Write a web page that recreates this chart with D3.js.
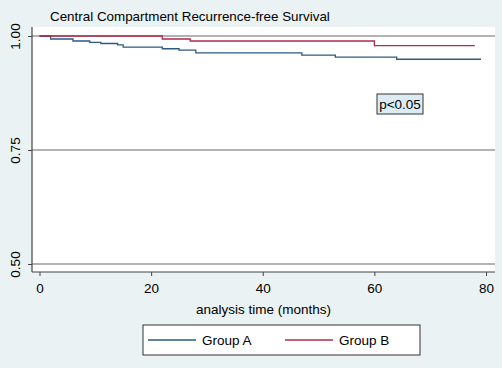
<!DOCTYPE html>
<html>
<head>
<meta charset="utf-8">
<script src="https://cdn.jsdelivr.net/npm/d3@7"></script>
<style>
  body { margin: 0; background: #eaf2f3; }
  text { font-family: "Liberation Sans", Arial, sans-serif; fill: #000; }
</style>
</head>
<body>
<script>
// Kaplan-Meier steps
var timesA = [0, 2, 6, 9, 11, 14, 15, 22, 25, 28, 47, 53, 64, 79.1];
var survA  = [1, 0.9934, 0.989, 0.986, 0.9836, 0.9807, 0.9757, 0.972, 0.969, 0.963, 0.958, 0.9535, 0.949, 0.949];
var timesB = [0, 22, 27, 60, 78];
var survB  = [1, 0.9934, 0.989, 0.979, 0.979];

var xTicks = [0, 20, 40, 60, 80];
var yTicks = [0.5, 0.75, 1];
var groups = ["Group A", "Group B"];
var colors = ["#2d5a80", "#b02a4a"];

var width = 502, height = 368;
var plot = {left: 32, right: 495, top: 27, bottom: 272};

var svg = d3.select("body").append("svg")
            .attr("width", width)
            .attr("height", height);

svg.append("rect")
   .attr("width", width).attr("height", height)
   .attr("fill", "#eaf2f3");

// Title
svg.append("text")
   .attr("x", 50)
   .attr("y", 21)
   .style("font-size", "13.4px")
   .text("Central Compartment Recurrence-free Survival");

// Scales
var x = d3.scaleLinear().domain([0, 80]).range([39.5, 486]);
var y = d3.scaleLinear().domain([0.5, 1]).range([264, 36]);

// Plot region
svg.append("rect")
   .attr("x", plot.left).attr("y", plot.top)
   .attr("width", plot.right - plot.left)
   .attr("height", plot.bottom - plot.top)
   .attr("fill", "white");

// Gridlines
svg.selectAll(".grid")
   .data(yTicks)
   .enter().append("line")
   .attr("class", "grid")
   .attr("x1", plot.left).attr("x2", plot.right)
   .attr("y1", function(d){ return y(d); })
   .attr("y2", function(d){ return y(d); })
   .attr("stroke", "#9a9a9a")
   .attr("stroke-width", 1.4);

// Axes
var xAxis = d3.axisBottom(x).tickValues(xTicks).tickSize(4).tickPadding(7);
var gx = svg.append("g")
   .attr("transform", "translate(0," + plot.bottom + ")")
   .call(xAxis);
gx.select(".domain").remove();
gx.selectAll("line").attr("stroke", "#444");
gx.selectAll("text").style("font-size", "13.5px").attr("fill", "#000");
gx.append("line")
  .attr("x1", plot.left).attr("x2", plot.right)
  .attr("stroke", "#444").attr("stroke-width", 1.2);

var yAxis = d3.axisLeft(y).tickValues(yTicks).tickSize(4).tickFormat(d3.format(".2f"));
var gy = svg.append("g")
   .attr("transform", "translate(" + plot.left + ",0)")
   .call(yAxis);
gy.select(".domain").remove();
gy.selectAll("line").attr("stroke", "#444");
gy.selectAll("text")
  .style("font-size", "13.5px")
  .attr("fill", "#000")
  .attr("x", 0).attr("dy", 0)
  .attr("text-anchor", "middle")
  .attr("transform", "translate(-12.5,0) rotate(-90)");
gy.append("line")
  .attr("y1", plot.top).attr("y2", plot.bottom)
  .attr("stroke", "#444").attr("stroke-width", 1.2);

// X axis title
svg.append("text")
   .attr("x", 263.5)
   .attr("y", 314)
   .attr("text-anchor", "middle")
   .style("font-size", "13.5px")
   .text("analysis time (months)");

// Survival curves
var line = d3.line()
             .x(function(d){ return x(d[0]); })
             .y(function(d){ return y(d[1]); })
             .curve(d3.curveStepAfter);

var series = [d3.zip(timesA, survA), d3.zip(timesB, survB)];
svg.selectAll(".km")
   .data(series)
   .enter().append("path")
   .attr("class", "km")
   .attr("d", line)
   .attr("fill", "none")
   .attr("stroke", function(d, i){ return colors[i]; })
   .attr("stroke-width", 1.3);

// p-value box
svg.append("rect")
   .attr("x", 377).attr("y", 94)
   .attr("width", 46).attr("height", 20)
   .attr("fill", "#dcecf4")
   .attr("stroke", "#333").attr("stroke-width", 1);
svg.append("text")
   .attr("x", 400).attr("y", 109)
   .attr("text-anchor", "middle")
   .style("font-size", "13.5px")
   .text("p<0.05");

// Legend
var legend = svg.append("g");
legend.append("rect")
      .attr("x", 143).attr("y", 325)
      .attr("width", 277).attr("height", 30)
      .attr("fill", "white")
      .attr("stroke", "#333").attr("stroke-width", 1);

var items = legend.selectAll(".item")
      .data(groups)
      .enter().append("g")
      .attr("class", "item")
      .attr("transform", function(d, i){ return "translate(" + (148 + i * 137) + ",340)"; });
items.append("line")
     .attr("x1", 0).attr("x2", 48)
     .attr("stroke", function(d, i){ return colors[i]; })
     .attr("stroke-width", 1.3);
items.append("text")
     .attr("x", 54).attr("y", 5)
     .style("font-size", "13.5px")
     .text(function(d){ return d; });
</script>
</body>
</html>
